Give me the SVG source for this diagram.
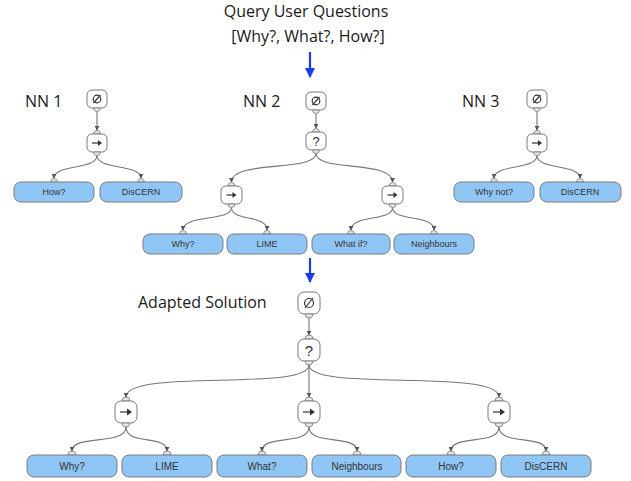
<svg xmlns="http://www.w3.org/2000/svg" width="631" height="481" viewBox="0 0 631 481">
<defs>
<style>
.title{font-family:"Open Sans","Noto Sans",sans-serif;font-size:16px;fill:#1a1a1a}
.node{fill:#fff;stroke:#7a7a7a;stroke-width:1}
.leaf{fill:#90c6f6;stroke:#7a7a7a;stroke-width:1}
.tab{fill:#e6e6e6;stroke:#7a7a7a;stroke-width:0.8}
.lt{font-family:"Liberation Sans",Arial,sans-serif;font-size:9px;fill:#333;text-anchor:middle}
.lt2{font-family:"Liberation Sans",Arial,sans-serif;font-size:10px;fill:#333;text-anchor:middle}
.q{font-family:"Liberation Sans",Arial,sans-serif;fill:#333;text-anchor:middle}
.icon{fill:none;stroke:#333;stroke-width:1.2}
.link{fill:none;stroke:#777;stroke-width:1.1;marker-end:url(#ah)}
.blue{stroke:#1a3cf0;stroke-width:2.2}
</style>
<marker id="ah" viewBox="0 0 6 6" refX="5" refY="3" markerWidth="5" markerHeight="5" orient="auto" markerUnits="userSpaceOnUse">
<path d="M0,0 L6,3 L0,6 Z" fill="#555"/>
</marker>
<marker id="bh" viewBox="0 0 10 10" refX="9" refY="5" markerWidth="10" markerHeight="10" orient="auto" markerUnits="userSpaceOnUse">
<path d="M0,0 L10,5 L0,10 Z" fill="#1a3cf0"/>
</marker>
</defs>

<rect width="631" height="481" fill="#fff"/>

<g id="header">
<text class="title" x="306" y="17" text-anchor="middle">Query User Questions</text>
<text class="title" x="308" y="42" text-anchor="middle">[Why?, What?, How?]</text>
<text class="title" x="25" y="107">NN 1</text>
<text class="title" x="243" y="107">NN 2</text>
<text class="title" x="462" y="107">NN 3</text>
<text class="title" x="138" y="308">Adapted Solution</text>
</g>

<g id="connectors">
<line class="blue" x1="310" y1="52" x2="310" y2="77" marker-end="url(#bh)"/>
<line class="blue" x1="310" y1="258" x2="310" y2="282" marker-end="url(#bh)"/>
<!-- NN1 -->
<path class="link" d="M97,111.5 L97,130"/>
<path class="link" d="M97,155.5 C97,170 54,164 54,178"/>
<path class="link" d="M97,155.5 C97,170 141,164 141,178"/>
<!-- NN2 -->
<path class="link" d="M316,113.5 L316,128"/>
<path class="link" d="M316,153.5 C316,172 231.5,160 231.5,182"/>
<path class="link" d="M316,153.5 C316,172 392.5,160 392.5,182"/>
<path class="link" d="M231.5,207.5 C231.5,222 183,214 183,230"/>
<path class="link" d="M231.5,207.5 C231.5,222 267,214 267,230"/>
<path class="link" d="M392.5,207.5 C392.5,222 351,214 351,230"/>
<path class="link" d="M392.5,207.5 C392.5,222 434,214 434,230"/>
<!-- NN3 -->
<path class="link" d="M537,111.5 L537,130"/>
<path class="link" d="M537,155.5 C537,170 494,164 494,178"/>
<path class="link" d="M537,155.5 C537,170 580,164 580,178"/>
<!-- Adapted -->
<path class="link" d="M309,318 L309,335"/>
<path class="link" d="M309,365 C309,392 126,368 126,397"/>
<path class="link" d="M309,365 L309,397"/>
<path class="link" d="M309,365 C309,392 499,368 499,397"/>
<path class="link" d="M126,427 C126,446 72,434 72,451"/>
<path class="link" d="M126,427 C126,446 167,434 167,451"/>
<path class="link" d="M309,427 C309,446 262,434 262,451"/>
<path class="link" d="M309,427 C309,446 357,434 357,451"/>
<path class="link" d="M499,427 C499,446 451,434 451,451"/>
<path class="link" d="M499,427 C499,446 546,434 546,451"/>
</g>

<!-- NN1 -->
<g id="nn1-root">
<rect class="node" x="87" y="90" width="20" height="18" rx="5"/>
<path class="tab" d="M93.5,108 A3.5,3.5 0 0 0 100.5,108 Z"/>
<circle class="icon" cx="97" cy="99" r="3.8"/><line class="icon" x1="93.5" y1="103" x2="100.5" y2="95"/>
</g>
<g id="nn1-seq">
<path class="tab" d="M93.5,134 A3.5,3.5 0 0 1 100.5,134 Z"/>
<rect class="node" x="87" y="134" width="20" height="18" rx="5"/>
<path class="tab" d="M93.5,152 A3.5,3.5 0 0 0 100.5,152 Z"/>
<line class="icon" x1="92" y1="143" x2="99" y2="143"/><path d="M98,140 L102,143 L98,146 Z" fill="#333"/>
</g>
<g id="nn1-how">
<path class="tab" d="M50.5,182 A3.5,3.5 0 0 1 57.5,182 Z"/>
<rect class="leaf" x="14" y="182" width="80" height="20" rx="7"/>
<text class="lt" x="54" y="195">How?</text>
</g>
<g id="nn1-discern">
<path class="tab" d="M137.5,182 A3.5,3.5 0 0 1 144.5,182 Z"/>
<rect class="leaf" x="100" y="182" width="82" height="20" rx="7"/>
<text class="lt" x="141" y="195">DisCERN</text>
</g>

<!-- NN2 -->
<g id="nn2-root">
<rect class="node" x="306" y="92" width="20" height="18" rx="5"/>
<path class="tab" d="M312.5,110 A3.5,3.5 0 0 0 319.5,110 Z"/>
<circle class="icon" cx="316" cy="101" r="3.8"/><line class="icon" x1="312.5" y1="105" x2="319.5" y2="97"/>
</g>
<g id="nn2-sel">
<path class="tab" d="M312.5,132 A3.5,3.5 0 0 1 319.5,132 Z"/>
<rect class="node" x="306" y="132" width="20" height="18" rx="5"/>
<path class="tab" d="M312.5,150 A3.5,3.5 0 0 0 319.5,150 Z"/>
<text class="q" x="316" y="146" font-size="13">?</text>
</g>
<g id="nn2-seq1">
<path class="tab" d="M228,186 A3.5,3.5 0 0 1 235,186 Z"/>
<rect class="node" x="221" y="186" width="21" height="18" rx="5"/>
<path class="tab" d="M228,204 A3.5,3.5 0 0 0 235,204 Z"/>
<line class="icon" x1="226.5" y1="195" x2="233.5" y2="195"/><path d="M232.5,192 L236.5,195 L232.5,198 Z" fill="#333"/>
</g>
<g id="nn2-seq2">
<path class="tab" d="M389,186 A3.5,3.5 0 0 1 396,186 Z"/>
<rect class="node" x="382" y="186" width="21" height="18" rx="5"/>
<path class="tab" d="M389,204 A3.5,3.5 0 0 0 396,204 Z"/>
<line class="icon" x1="387.5" y1="195" x2="394.5" y2="195"/><path d="M393.5,192 L397.5,195 L393.5,198 Z" fill="#333"/>
</g>
<g id="nn2-why">
<path class="tab" d="M179.5,234 A3.5,3.5 0 0 1 186.5,234 Z"/>
<rect class="leaf" x="143" y="234" width="80" height="20" rx="7"/>
<text class="lt" x="183" y="247">Why?</text>
</g>
<g id="nn2-lime">
<path class="tab" d="M263.5,234 A3.5,3.5 0 0 1 270.5,234 Z"/>
<rect class="leaf" x="227" y="234" width="80" height="20" rx="7"/>
<text class="lt" x="267" y="247">LIME</text>
</g>
<g id="nn2-whatif">
<path class="tab" d="M347.5,234 A3.5,3.5 0 0 1 354.5,234 Z"/>
<rect class="leaf" x="312" y="234" width="78" height="20" rx="7"/>
<text class="lt" x="351" y="247">What if?</text>
</g>
<g id="nn2-neighbours">
<path class="tab" d="M430.5,234 A3.5,3.5 0 0 1 437.5,234 Z"/>
<rect class="leaf" x="394" y="234" width="80" height="20" rx="7"/>
<text class="lt" x="434" y="247">Neighbours</text>
</g>

<!-- NN3 -->
<g id="nn3-root">
<rect class="node" x="527" y="90" width="20" height="18" rx="5"/>
<path class="tab" d="M533.5,108 A3.5,3.5 0 0 0 540.5,108 Z"/>
<circle class="icon" cx="537" cy="99" r="3.8"/><line class="icon" x1="533.5" y1="103" x2="540.5" y2="95"/>
</g>
<g id="nn3-seq">
<path class="tab" d="M533.5,134 A3.5,3.5 0 0 1 540.5,134 Z"/>
<rect class="node" x="527" y="134" width="20" height="18" rx="5"/>
<path class="tab" d="M533.5,152 A3.5,3.5 0 0 0 540.5,152 Z"/>
<line class="icon" x1="532" y1="143" x2="539" y2="143"/><path d="M538,140 L542,143 L538,146 Z" fill="#333"/>
</g>
<g id="nn3-whynot">
<path class="tab" d="M490.5,182 A3.5,3.5 0 0 1 497.5,182 Z"/>
<rect class="leaf" x="454" y="182" width="80" height="20" rx="7"/>
<text class="lt" x="494" y="195">Why not?</text>
</g>
<g id="nn3-discern">
<path class="tab" d="M576.5,182 A3.5,3.5 0 0 1 583.5,182 Z"/>
<rect class="leaf" x="540" y="182" width="81" height="20" rx="7"/>
<text class="lt" x="580" y="195">DisCERN</text>
</g>

<!-- Adapted solution -->
<g id="ad-root">
<rect class="node" x="298" y="292" width="22" height="22" rx="6"/>
<path class="tab" d="M305,314 A4,4 0 0 0 313,314 Z"/>
<circle class="icon" cx="309" cy="303" r="4.5"/><line class="icon" x1="305" y1="308" x2="313" y2="298"/>
</g>
<g id="ad-sel">
<path class="tab" d="M305,339 A4,4 0 0 1 313,339 Z"/>
<rect class="node" x="298" y="339" width="22" height="22" rx="6"/>
<path class="tab" d="M305,361 A4,4 0 0 0 313,361 Z"/>
<text class="q" x="309" y="356" font-size="15">?</text>
</g>
<g id="ad-seq1">
<path class="tab" d="M122,401 A4,4 0 0 1 130,401 Z"/>
<rect class="node" x="115" y="401" width="22" height="22" rx="6"/>
<path class="tab" d="M122,423 A4,4 0 0 0 130,423 Z"/>
<line class="icon" x1="120" y1="412" x2="128" y2="412"/><path d="M127,408.5 L132,412 L127,415.5 Z" fill="#333"/>
</g>
<g id="ad-seq2">
<path class="tab" d="M305,401 A4,4 0 0 1 313,401 Z"/>
<rect class="node" x="298" y="401" width="22" height="22" rx="6"/>
<path class="tab" d="M305,423 A4,4 0 0 0 313,423 Z"/>
<line class="icon" x1="303" y1="412" x2="311" y2="412"/><path d="M310,408.5 L315,412 L310,415.5 Z" fill="#333"/>
</g>
<g id="ad-seq3">
<path class="tab" d="M495,401 A4,4 0 0 1 503,401 Z"/>
<rect class="node" x="488" y="401" width="22" height="22" rx="6"/>
<path class="tab" d="M495,423 A4,4 0 0 0 503,423 Z"/>
<line class="icon" x1="493" y1="412" x2="501" y2="412"/><path d="M500,408.5 L505,412 L500,415.5 Z" fill="#333"/>
</g>
<g id="ad-why">
<path class="tab" d="M68,455 A4,4 0 0 1 76,455 Z"/>
<rect class="leaf" x="27" y="455" width="90" height="22" rx="7"/>
<text class="lt2" x="72" y="469.5">Why?</text>
</g>
<g id="ad-lime">
<path class="tab" d="M163,455 A4,4 0 0 1 171,455 Z"/>
<rect class="leaf" x="122" y="455" width="90" height="22" rx="7"/>
<text class="lt2" x="167" y="469.5">LIME</text>
</g>
<g id="ad-what">
<path class="tab" d="M258,455 A4,4 0 0 1 266,455 Z"/>
<rect class="leaf" x="217" y="455" width="90" height="22" rx="7"/>
<text class="lt2" x="262" y="469.5">What?</text>
</g>
<g id="ad-neighbours">
<path class="tab" d="M353,455 A4,4 0 0 1 361,455 Z"/>
<rect class="leaf" x="312" y="455" width="89" height="22" rx="7"/>
<text class="lt2" x="357" y="469.5">Neighbours</text>
</g>
<g id="ad-how">
<path class="tab" d="M447,455 A4,4 0 0 1 455,455 Z"/>
<rect class="leaf" x="406" y="455" width="90" height="22" rx="7"/>
<text class="lt2" x="451" y="469.5">How?</text>
</g>
<g id="ad-discern">
<path class="tab" d="M542,455 A4,4 0 0 1 550,455 Z"/>
<rect class="leaf" x="501" y="455" width="90" height="22" rx="7"/>
<text class="lt2" x="546" y="469.5">DisCERN</text>
</g>
</svg>
